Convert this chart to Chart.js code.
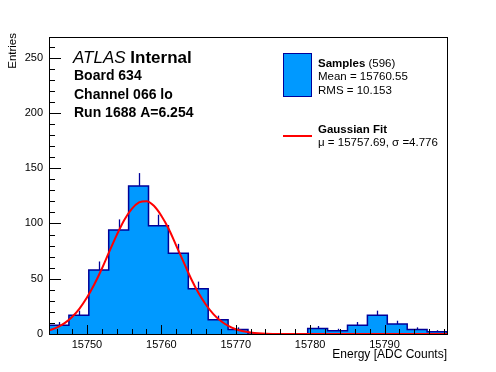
<!DOCTYPE html>
<html>
<head>
<meta charset="utf-8">
<script src="https://cdn.jsdelivr.net/npm/chart.js@4"></script>
<style>
  html, body { margin: 0; padding: 0; background: #fff; }
  #wrap { width: 496px; height: 372px; }
</style>
</head>
<body>
<div id="wrap"><canvas id="histo"></canvas></div>
<script>
// histogram: 20 bins between xMin and xMax
const xMin = 15744.9;
const xMax = 15798.4;
const counts = [8, 17, 58, 94, 134, 98, 73, 41, 13, 4, 0, 0, 0, 5, 3, 8, 17, 9, 4, 2];

// gaussian fit curve
const fitX = [15744.9, 15746, 15747, 15748, 15749, 15750, 15751, 15752, 15753, 15754, 15755, 15756, 15757, 15758,
              15759, 15760, 15761, 15762, 15763, 15764, 15765, 15766, 15767, 15768, 15769, 15770, 15771, 15772,
              15773, 15775, 15798.4];
const fitY = [3.2, 6, 9.8, 15.4, 23, 33, 45, 59, 74.5, 89.5, 103, 113, 119, 120.2,
              116, 107, 95, 80, 65, 50, 37, 26.5, 18, 11.7, 7.3, 4.3, 2.5, 1.4,
              0.7, 0.1, 0];

const xTickLabels = [15750, 15760, 15770, 15780, 15790];
const yTickLabels = [0, 50, 100, 150, 200, 250];
const yMax = 268.7;

const statsLines = ['Mean = 15760.55', 'RMS = 10.153'];
const fitLine = 'μ = 15757.69, σ =4.776';
const infoLines = ['Board 634', 'Channel 066 lo', 'Run 1688 A=6.254'];

const FILL = '#0099ff';
const EDGE = '#000099';
const FONT = '"Liberation Sans", Arial, Helvetica, sans-serif';

document.addEventListener('DOMContentLoaded', function () {
    const binW = (xMax - xMin) / counts.length;

    // step outline points at the left edge of each bin
    const histPts = [{ x: xMin, y: 0 }];
    counts.forEach((c, i) => histPts.push({ x: xMin + i * binW, y: c }));
    histPts.push({ x: xMax, y: counts[counts.length - 1] });
    histPts.push({ x: xMax, y: 0 });

    const fitPts = fitX.map((x, i) => ({ x: x, y: fitY[i] }));

    const rootStyle = {
        id: 'rootStyle',
        afterDatasetDraw(chart, args) {
            if (args.index !== 0) return;
            // error bars, only the part above the fill shows
            const ctx = chart.ctx;
            const xs = chart.scales.x, ys = chart.scales.y;
            ctx.save();
            ctx.strokeStyle = EDGE;
            ctx.lineWidth = 1.3;
            counts.forEach((c, i) => {
                if (c <= 0) return;
                const px = Math.round(xs.getPixelForValue(xMin + (i + 0.5) * binW)) + 0.5;
                ctx.beginPath();
                ctx.moveTo(px, ys.getPixelForValue(c));
                ctx.lineTo(px, ys.getPixelForValue(c + Math.sqrt(c)));
                ctx.stroke();
            });
            ctx.restore();
        },
        afterDatasetsDraw(chart) {
            const ctx = chart.ctx;
            const a = chart.chartArea;
            const xs = chart.scales.x, ys = chart.scales.y;
            ctx.save();
            ctx.strokeStyle = '#000';
            ctx.lineWidth = 1;
            ctx.beginPath();
            // y ticks inside the frame
            for (let v = 0; v <= yMax; v += 10) {
                const py = Math.round(ys.getPixelForValue(v)) + 0.5;
                const len = v % 50 === 0 ? 12 : 6;
                ctx.moveTo(a.left, py);
                ctx.lineTo(a.left + len, py);
            }
            // x ticks inside the frame
            for (let v = Math.ceil(xMin / 2) * 2; v <= xMax; v += 2) {
                const px = Math.round(xs.getPixelForValue(v)) + 0.5;
                const len = v % 10 === 0 ? 9 : 5;
                ctx.moveTo(px, a.bottom);
                ctx.lineTo(px, a.bottom - len);
            }
            ctx.stroke();
            ctx.strokeRect(Math.round(a.left) + 0.5, Math.round(a.top) + 0.5,
                Math.round(a.right - a.left), Math.round(a.bottom - a.top));

            // ATLAS label
            ctx.fillStyle = '#000';
            ctx.textBaseline = 'alphabetic';
            ctx.textAlign = 'left';
            ctx.font = 'italic 17px ' + FONT;
            ctx.fillText('ATLAS', 73, 62.5);
            const w = ctx.measureText('ATLAS ').width;
            ctx.font = 'bold 17px ' + FONT;
            ctx.fillText('Internal', 73 + w, 62.5);
            ctx.font = 'bold 14px ' + FONT;
            infoLines.forEach((t, i) => ctx.fillText(t, 74, 80 + i * 18.7));

            // legend
            ctx.fillStyle = FILL;
            ctx.fillRect(283.5, 53.5, 28, 43);
            ctx.strokeStyle = EDGE;
            ctx.strokeRect(283.5, 53.5, 28, 43);
            ctx.fillStyle = '#000';
            ctx.font = 'bold 11.5px ' + FONT;
            ctx.fillText('Samples', 318, 66.5);
            const sw = ctx.measureText('Samples').width;
            ctx.font = '11.5px ' + FONT;
            ctx.fillText(' (596)', 318 + sw, 66.5);
            statsLines.forEach((t, i) => ctx.fillText(t, 318, 80 + i * 13.5));

            ctx.strokeStyle = '#ff0000';
            ctx.lineWidth = 2;
            ctx.beginPath();
            ctx.moveTo(283, 136);
            ctx.lineTo(312, 136);
            ctx.stroke();
            ctx.font = 'bold 11.5px ' + FONT;
            ctx.fillText('Gaussian Fit', 318, 132.5);
            ctx.font = '11.5px ' + FONT;
            ctx.fillText(fitLine, 318, 146);

            // y axis title, right-aligned a little above the frame top
            ctx.font = '11.5px ' + FONT;
            ctx.translate(16, 33);
            ctx.rotate(-Math.PI / 2);
            ctx.textAlign = 'right';
            ctx.fillText('Entries', 0, 0);
            ctx.restore();
        }
    };

    new Chart(document.getElementById('histo'), {
        type: 'line',
        data: {
            datasets: [{
                data: histPts,
                stepped: 'before',
                borderColor: EDGE,
                borderWidth: 1.5,
                backgroundColor: FILL,
                fill: 'origin',
                pointRadius: 0,
                order: 2
            }, {
                data: fitPts,
                borderColor: '#ff0000',
                borderWidth: 2,
                fill: false,
                pointRadius: 0,
                cubicInterpolationMode: 'monotone',
                order: 1
            }]
        },
        options: {
            responsive: true,
            maintainAspectRatio: false,
            animation: false,
            events: [],
            layout: { padding: { top: 37, right: 49, bottom: 10, left: 0 } },
            plugins: { legend: { display: false }, tooltip: { enabled: false } },
            scales: {
                x: {
                    type: 'linear',
                    min: xMin,
                    max: xMax,
                    grid: { display: false, drawTicks: false },
                    border: { display: false },
                    afterBuildTicks: s => { s.ticks = xTickLabels.map(v => ({ value: v })); },
                    afterFit: s => { s.height = 28; },
                    ticks: {
                        padding: 4,
                        maxRotation: 0,
                        color: '#000',
                        font: { family: FONT, size: 11 },
                        callback: v => String(v)
                    },
                    title: {
                        display: true,
                        text: 'Energy [ADC Counts]',
                        align: 'end',
                        color: '#000',
                        padding: 0,
                        font: { family: FONT, size: 12 }
                    }
                },
                y: {
                    type: 'linear',
                    min: 0,
                    max: yMax,
                    grid: { display: false, drawTicks: false },
                    border: { display: false },
                    afterBuildTicks: s => { s.ticks = yTickLabels.map(v => ({ value: v })); },
                    afterFit: s => { s.width = 49; },
                    ticks: {
                        padding: 6,
                        color: '#000',
                        font: { family: FONT, size: 11 },
                        callback: v => String(v)
                    }
                }
            }
        },
        plugins: [rootStyle]
    });
});
</script>
</body>
</html>
